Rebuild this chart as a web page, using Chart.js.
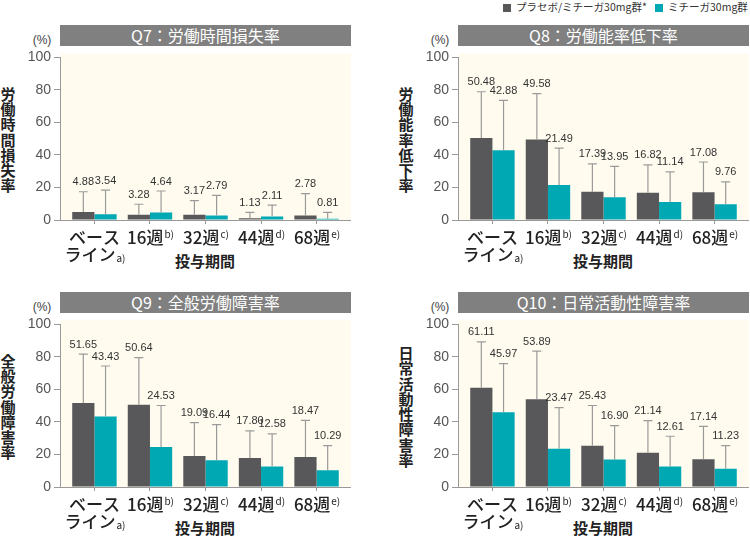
<!DOCTYPE html>
<html lang="ja">
<head>
  <meta charset="UTF-8">
  <title>労働生産性 Q7-Q10</title>
  <script src="https://cdn.jsdelivr.net/npm/chart.js"></script>
  <style>
    body { margin: 0; background: #fff; font-family: "Noto Sans CJK JP", "Noto Sans", sans-serif; color: #222; }
    #wrap { position: relative; width: 750px; height: 536px; overflow: hidden; }
    .abs { position: absolute; white-space: nowrap; }
    .title-bar { background: #808080; color: #fff; font-size: 16px; line-height: 21px; text-align: center; height: 21px; }
    .pct { font-size: 12px; color: #444; transform: translate(-50%, -50%); font-family: "Liberation Sans", sans-serif; }
    .note { font-size: 10px; color: #333; transform: translate(-100%, -50%); }
    .ytitle { writing-mode: vertical-rl; font-size: 15px; font-weight: bold; letter-spacing: 0.3px; transform: translate(-50%, -50%); }
    .xtitle { font-size: 15px; font-weight: bold; line-height: 15px; transform: translate(-50%, -50%); }
    .legend { top: 1px; font-size: 10.5px; color: #333; line-height: 12px; }
    .legend i { display: inline-block; width: 8px; height: 8px; margin-right: 5px; vertical-align: -0.5px; }
  </style>
</head>
<body>
<div id="wrap">
  <div class="abs legend" style="left:503px"><i style="background:#58585a"></i>プラセボ/ミチーガ30mg群*</div>
  <div class="abs legend" style="left:655px"><i style="background:#00a8b4"></i>ミチーガ30mg群</div>
</div>
<script>
// x categories (line 1 / line 2 / footnote mark)
const xLine1 = ['ベース', '16週', '32週', '44週', '68週'];
const xLine2 = ['ライン', '', '', '', ''];
const xNote = ['a)', 'b)', 'c)', 'd)', 'e)'];
const xPos = [0, 1, 2, 3, 4];
const yTicks = [0, 20, 40, 60, 80, 100];

// Q7 労働時間損失率
const q7Placebo = [4.88, 3.28, 3.17, 1.13, 2.78];
const q7PlaceboSD = [12.5, 6.4, 8.8, 3.6, 13.4];
const q7Mitiga = [3.54, 4.64, 2.79, 2.11, 0.81];
const q7MitigaSD = [14.8, 13.2, 12.4, 7.0, 3.9];

// Q8 労働能率低下率
const q8Placebo = [50.48, 49.58, 17.39, 16.82, 17.08];
const q8PlaceboSD = [28.4, 28.1, 17.1, 17.1, 18.6];
const q8Mitiga = [42.88, 21.49, 13.95, 11.14, 9.76];
const q8MitigaSD = [30.7, 22.7, 19.0, 18.5, 13.7];

// Q9 全般労働障害率
const q9Placebo = [51.65, 50.64, 19.09, 17.80, 18.47];
const q9PlaceboSD = [30.1, 28.9, 20.5, 16.7, 22.5];
const q9Mitiga = [43.43, 24.53, 16.44, 12.58, 10.29];
const q9MitigaSD = [31.0, 25.6, 21.9, 20.1, 15.1];

// Q10 日常活動性障害率
const q10Placebo = [61.11, 53.89, 25.43, 21.14, 17.14];
const q10PlaceboSD = [28.1, 29.7, 24.7, 19.7, 20.2];
const q10Mitiga = [45.97, 23.47, 16.90, 12.61, 11.23];
const q10MitigaSD = [29.9, 25.4, 20.8, 18.6, 14.2];

const panels = [
  { title: 'Q7：労働時間損失率', yTitle: '労働時間損失率', p: q7Placebo, pSD: q7PlaceboSD, m: q7Mitiga, mSD: q7MitigaSD, ax: 60, ty: 56 },
  { title: 'Q8：労働能率低下率', yTitle: '労働能率低下率', p: q8Placebo, pSD: q8PlaceboSD, m: q8Mitiga, mSD: q8MitigaSD, ax: 458, ty: 56 },
  { title: 'Q9：全般労働障害率', yTitle: '全般労働障害率', p: q9Placebo, pSD: q9PlaceboSD, m: q9Mitiga, mSD: q9MitigaSD, ax: 60, ty: 323 },
  { title: 'Q10：日常活動性障害率', yTitle: '日常活動性障害率', p: q10Placebo, pSD: q10PlaceboSD, m: q10Mitiga, mSD: q10MitigaSD, ax: 458, ty: 323 }
];

const decor = {
  id: 'decor',
  beforeDraw(chart) {
    const { ctx, chartArea: a } = chart;
    ctx.save();
    ctx.fillStyle = '#fffcef';
    ctx.fillRect(a.left, a.top - 4, a.right - a.left, a.bottom - a.top + 4);
    ctx.restore();
  },
  afterDatasetsDraw(chart) {
    const ctx = chart.ctx;
    const y = chart.scales.y, x = chart.scales.x;
    ctx.save();
    // error bars + value labels
    chart.data.datasets.forEach((ds, di) => {
      chart.getDatasetMeta(di).data.forEach((bar, i) => {
        const v = ds.data[i].y;
        const top = y.getPixelForValue(v + ds.sd[i]);
        ctx.strokeStyle = '#9a9a9a';
        ctx.lineWidth = 1.2;
        ctx.beginPath();
        ctx.moveTo(bar.x, bar.y);
        ctx.lineTo(bar.x, top);
        ctx.moveTo(bar.x - 4.5, top);
        ctx.lineTo(bar.x + 4.5, top);
        ctx.stroke();
        ctx.fillStyle = '#333';
        ctx.font = '11px "Liberation Sans Narrow", "Liberation Sans", sans-serif';
        ctx.textAlign = 'center';
        ctx.textBaseline = 'bottom';
        ctx.fillText(v.toFixed(2), bar.x, top - 4);
      });
    });
    // category labels
    const base = chart.chartArea.bottom;
    const mainFont = '500 17px "Noto Sans CJK JP", sans-serif';
    const noteFont = '10px "Noto Sans CJK JP", sans-serif';
    ctx.fillStyle = '#222';
    ctx.textAlign = 'left';
    xPos.forEach((v, i) => {
      const cx = x.getPixelForValue(v);
      const two = xLine2[i] !== '';
      ctx.font = mainFont;
      if (two) {
        ctx.textBaseline = 'middle';
        const w1 = ctx.measureText(xLine1[i]).width;
        ctx.fillText(xLine1[i], cx - w1 / 2, base + 18);
      }
      const main = two ? xLine2[i] : xLine1[i];
      const my = two ? base + 35 : base + 18;
      ctx.font = mainFont;
      const mw = ctx.measureText(main).width;
      ctx.font = noteFont;
      const nw = ctx.measureText(xNote[i]).width;
      const sx = cx - (mw + nw) / 2;
      ctx.font = mainFont;
      ctx.textBaseline = 'middle';
      ctx.fillText(main, sx, my);
      ctx.font = noteFont;
      ctx.fillText(xNote[i], sx + mw + 1, two ? my + 3 : my - 4);
    });
    ctx.restore();
  }
};

const wrap = document.getElementById('wrap');

function addDiv(cls, text, style) {
  const d = document.createElement('div');
  d.className = 'abs ' + cls;
  d.textContent = text;
  Object.assign(d.style, style);
  wrap.appendChild(d);
  return d;
}

panels.forEach(pn => {
  addDiv('title-bar', pn.title, { left: pn.ax + 'px', top: (pn.ty - 31) + 'px', width: '291px' });
  addDiv('pct', '(%)', { left: (pn.ax - 18) + 'px', top: (pn.ty - 16) + 'px' });
  addDiv('note', '平均値±標準偏差', { left: (pn.ax + 281) + 'px', top: (pn.ty + 16) + 'px' });
  addDiv('ytitle', pn.yTitle, { left: (pn.ax - 52) + 'px', top: (pn.ty + 84) + 'px' });
  addDiv('xtitle', '投与期間', { left: (pn.ax + 145) + 'px', top: (pn.ty + 204) + 'px' });

  const canvas = document.createElement('canvas');
  canvas.width = 351;
  canvas.height = 224;
  canvas.className = 'abs';
  Object.assign(canvas.style, { left: (pn.ax - 60) + 'px', top: (pn.ty - 10) + 'px', width: '351px', height: '224px' });
  wrap.appendChild(canvas);

  new Chart(canvas, {
    type: 'bar',
    data: {
      datasets: [
        { label: 'プラセボ/ミチーガ30mg群*', data: pn.p.map((v, i) => ({ x: xPos[i], y: v })), sd: pn.pSD,
          backgroundColor: '#58585a', categoryPercentage: 0.8, barPercentage: 1.0 },
        { label: 'ミチーガ30mg群', data: pn.m.map((v, i) => ({ x: xPos[i], y: v })), sd: pn.mSD,
          backgroundColor: '#00a8b4', categoryPercentage: 0.8, barPercentage: 1.0 }
      ]
    },
    options: {
      responsive: false,
      animation: false,
      devicePixelRatio: 1,
      layout: { padding: { top: 10, right: 0, bottom: 0, left: 0 } },
      plugins: { legend: { display: false }, tooltip: { enabled: false } },
      scales: {
        x: {
          type: 'linear', min: -0.62, max: 4.62, offset: false,
          afterBuildTicks: s => { s.ticks = xPos.map(v => ({ value: v })); },
          afterFit: s => { s.height = 50; },
          ticks: { display: false },
          grid: { offset: false, drawOnChartArea: false, tickLength: 4, color: '#999' },
          border: { color: '#999' }
        },
        y: {
          min: 0, max: 100,
          afterBuildTicks: s => { s.ticks = yTicks.map(v => ({ value: v })); },
          afterFit: s => { s.width = 60; },
          ticks: { padding: 3, color: '#555', font: { family: 'Liberation Sans', size: 14 } },
          grid: { drawOnChartArea: false, tickLength: 6, color: '#999' },
          border: { color: '#999' }
        }
      }
    },
    plugins: [decor]
  });
});
</script>
</body>
</html>
